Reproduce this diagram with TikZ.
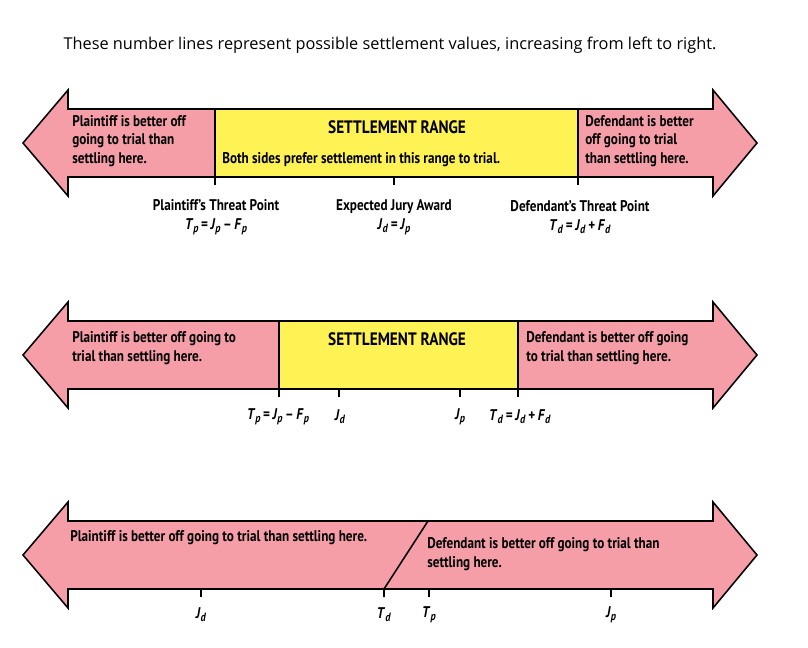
\documentclass[tikz,border=0pt]{standalone}
\usepackage{fontspec}
\setmainfont{Open Sans}
\newfontfamily\condfont{PT Sans}[FakeStretch=0.85]
\usetikzlibrary{positioning}
\definecolor{plaintpink}{RGB}{245,158,168}
\definecolor{rangeyellow}{RGB}{255,242,84}
% double-headed band arrow around a centre line y
\newcommand{\bandarrow}[1]{(23,#1) -- (68,#1-53) -- (68,#1-34) -- (713,#1-34) -- (713,#1-53)
  -- (757,#1) -- (713,#1+53) -- (713,#1+34) -- (68,#1+34) -- (68,#1+53) -- cycle}
% bold italic symbol with subscript
\newcommand{\sym}[2]{\textit{#1}\raisebox{-0.35ex}{\fontsize{8.5}{8.5}\selectfont\textit{#2}}}
\tikzset{
  outline/.style={draw=black, line width=1.1pt, line join=miter},
  boxtext/.style={font=\condfont\bfseries\fontsize{11}{13}\selectfont, align=left, anchor=west, inner sep=0pt},
  rangetitle/.style={font=\condfont\bfseries\fontsize{12.8}{16}\selectfont, inner sep=0pt},
  ticklabel/.style={font=\condfont\bfseries\fontsize{11}{14}\selectfont, align=center, inner sep=0pt},
  titletext/.style={font=\fontsize{11.6}{13}\selectfont, inner sep=0pt}
}
\begin{document}
\begin{tikzpicture}[x=0.025cm, y=-0.025cm]
  \useasboundingbox (0,0) rectangle (808,647);
  % title
  \node[titletext] (title) at (390,45) {These number lines represent possible settlement values, increasing from left to right.};

  % line 1: J_d = J_p
  \fill[plaintpink] \bandarrow{143};
  \fill[rangeyellow] (215,109) rectangle (578,177);
  \draw[outline] \bandarrow{143};
  \foreach \x/\name in {215/tpa, 394/jda, 578/tda}
    \coordinate (\name) at (\x,177);
  \draw[outline] (215,109) -- (tpa) -- ++(0,8);
  \draw[outline] (578,109) -- (tda) -- ++(0,8);
  \draw[outline] (jda) -- ++(0,8);
  \node[boxtext] (plaintext1) at (72,141) {Plaintiff is better off\\going to trial than\\settling here.};
  \node[rangetitle] (range1) at (397,127) {SETTLEMENT RANGE};
  \node[boxtext] (rangenote1) at (222,160) {Both sides prefer settlement in this range to trial.};
  \node[boxtext] (deftext1) at (585,141) {Defendant is better\\off going to trial\\than settling here.};
  \node[ticklabel] (tplabel1) at (216,217) {Plaintiff’s Threat Point\\\sym{T}{p}\,=\,\sym{J}{p}\,–\,\sym{F}{p}};
  \node[ticklabel] (jdlabel1) at (394,217) {Expected Jury Award\\\sym{J}{d}\,=\,\sym{J}{p}};
  \node[ticklabel] (tdlabel1) at (580,217) {Defendant’s Threat Point\\\sym{T}{d}\,=\,\sym{J}{d}\,+\,\sym{F}{d}};

  % line 2: J_d < J_p
  \fill[plaintpink] \bandarrow{355};
  \fill[rangeyellow] (279,321) rectangle (518,389);
  \draw[outline] \bandarrow{355};
  \foreach \x/\name in {279/tpb, 339/jdb, 460/jpb, 518/tdb}
    \coordinate (\name) at (\x,389);
  \draw[outline] (279,321) -- (tpb) -- ++(0,8);
  \draw[outline] (518,321) -- (tdb) -- ++(0,8);
  \draw[outline] (jdb) -- ++(0,8);
  \draw[outline] (jpb) -- ++(0,8);
  \node[boxtext] (plaintext2) at (72,348) {Plaintiff is better off going to\\trial than settling here.};
  \node[rangetitle] (range2) at (397,339) {SETTLEMENT RANGE};
  \node[boxtext] (deftext2) at (526,348) {Defendant is better off going\\to trial than settling here.};
  \node[ticklabel] (tplabel2) at (278,417) {\sym{T}{p}\,=\,\sym{J}{p}\,–\,\sym{F}{p}};
  \node[ticklabel] (jdlabel2) at (340,417) {\sym{J}{d}};
  \node[ticklabel] (jplabel2) at (460,417) {\sym{J}{p}};
  \node[ticklabel] (tdlabel2) at (520,417) {\sym{T}{d}\,=\,\sym{J}{d}\,+\,\sym{F}{d}};

  % line 3: J_p < J_d, no settlement range
  \fill[plaintpink] \bandarrow{555};
  \draw[outline] \bandarrow{555};
  \foreach \x/\name in {201/jdc, 384/tdc, 429/tpc, 611/jpc}
    \coordinate (\name) at (\x,589);
  \coordinate (cut) at (428,521);
  \draw[outline] (cut) -- (tdc) -- ++(0,8);
  \foreach \name in {jdc, tpc, jpc}
    \draw[outline] (\name) -- ++(0,8);
  \node[boxtext] (plaintext3) at (70,538) {Plaintiff is better off going to trial than settling here.};
  \node[boxtext] (deftext3) at (427,554) {Defendant is better off going to trial than\\settling here.};
  \node[ticklabel] (jdlabel3) at (201,615) {\sym{J}{d}};
  \node[ticklabel] (tdlabel3) at (384,615) {\sym{T}{d}};
  \node[ticklabel] (tplabel3) at (429,615) {\sym{T}{p}};
  \node[ticklabel] (jplabel3) at (611,615) {\sym{J}{p}};
\end{tikzpicture}
\end{document}
